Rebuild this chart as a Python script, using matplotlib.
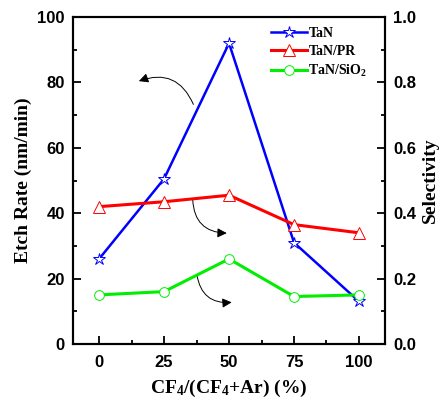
import matplotlib
matplotlib.use('Agg')
import matplotlib.pyplot as plt
from matplotlib.ticker import MultipleLocator, FormatStrFormatter

plt.rcParams['mathtext.fontset'] = 'custom'
plt.rcParams['mathtext.rm'] = 'Liberation Serif:bold'
plt.rcParams['mathtext.it'] = 'Liberation Serif:bold'
plt.rcParams['mathtext.bf'] = 'Liberation Serif:bold'

# data
cf4 = [0, 25, 50, 75, 100]
etch_tan = [26, 50.5, 92, 31, 13]
sel_pr = [0.42, 0.435, 0.455, 0.365, 0.34]
sel_sio2 = [0.15, 0.16, 0.26, 0.145, 0.15]

serif = 'Liberation Serif'
sans = 'Liberation Sans'

fig = plt.figure(figsize=(4.43, 4.07), dpi=100)
ax = fig.add_axes([0.165, 0.155, 0.704, 0.803])
ax2 = ax.twinx()

l1, = ax.plot(cf4, etch_tan, color='blue', lw=1.8, marker='*', ms=9,
              mfc='white', mec='blue', mew=0.7)
l2, = ax2.plot(cf4, sel_pr, color='red', lw=2.2, marker='^', ms=8,
               mfc='white', mec='red', mew=0.7)
l3, = ax2.plot(cf4, sel_sio2, color='#00ee00', lw=2.2, marker='o', ms=7,
               mfc='white', mec='#00ee00', mew=0.7)

ax.set_xlim(-10, 110)
ax.set_ylim(0, 100)
ax2.set_ylim(0, 1.0)
ax.set_xticks(cf4)
ax.xaxis.set_minor_locator(MultipleLocator(12.5))
ax.yaxis.set_major_locator(MultipleLocator(20))
ax.yaxis.set_minor_locator(MultipleLocator(10))
ax2.yaxis.set_major_locator(MultipleLocator(0.2))
ax2.yaxis.set_minor_locator(MultipleLocator(0.1))
ax2.yaxis.set_major_formatter(FormatStrFormatter('%.1f'))

for a in (ax, ax2):
    a.tick_params(which='major', direction='in', length=6, width=1.3, top=False)
    a.tick_params(which='minor', direction='in', length=3, width=1.3, top=False)
    for s in a.spines.values():
        s.set_linewidth(1.5)
    for lab in a.get_xticklabels() + a.get_yticklabels():
        lab.set_fontfamily(sans)
        lab.set_fontweight('bold')
        lab.set_fontsize(12)
ax.tick_params(axis='x', pad=8)
ax.tick_params(axis='y', pad=6)
ax2.tick_params(axis='y', pad=6)

ax.set_xlabel('CF$_4$/(CF$_4$+Ar) (%)', fontfamily=serif, fontweight='bold',
              fontsize=14, labelpad=6)
ax.set_ylabel('Etch Rate (nm/min)', fontfamily=serif, fontweight='bold',
              fontsize=14)
ax2.set_ylabel('Selectivity', fontfamily=serif, fontweight='bold', fontsize=14)

# curved arrows
arr = dict(arrowstyle='-|>', color='black', lw=0.7, mutation_scale=14)
ax.annotate('', xy=(14.3, 80.1), xytext=(36.7, 72.5),
            arrowprops=dict(connectionstyle='arc3,rad=0.5', **arr))
ax.annotate('', xy=(50.2, 33.9), xytext=(36.0, 44.9),
            arrowprops=dict(connectionstyle='arc3,rad=0.5', **arr))
ax.annotate('', xy=(52.1, 12.8), xytext=(37.5, 22.0),
            arrowprops=dict(connectionstyle='arc3,rad=0.5', **arr))

leg = ax.legend([l1, l2, l3], ['TaN', 'TaN/PR', 'TaN/SiO$_2$'],
                loc='upper right', bbox_to_anchor=(0.97, 0.995),
                frameon=False, handlelength=2.6,
                handletextpad=0.1, labelspacing=0.35, borderaxespad=0.2,
                prop={'family': serif, 'weight': 'bold', 'size': 10})

fig.savefig('out.png', dpi=100)
